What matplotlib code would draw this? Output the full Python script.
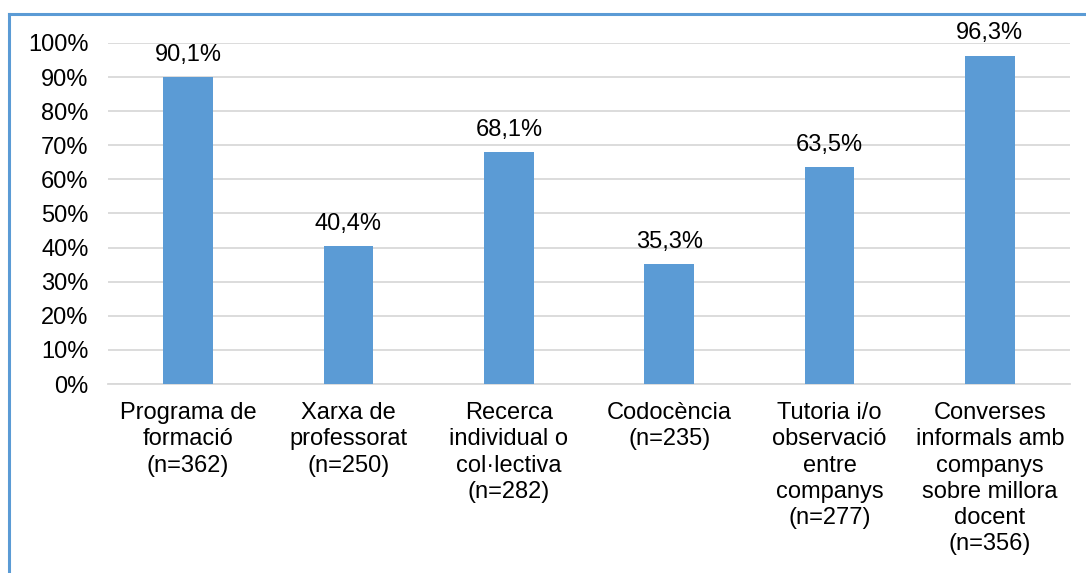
import matplotlib.pyplot as plt
from matplotlib.lines import Line2D
from matplotlib.ticker import FuncFormatter

plt.rcParams['font.family'] = ['Liberation Sans', 'DejaVu Sans']

# Data
categories = [
    "Programa de\nformació\n(n=362)",
    "Xarxa de\nprofessorat\n(n=250)",
    "Recerca\nindividual o\ncol·lectiva\n(n=282)",
    "Codocència\n(n=235)",
    "Tutoria i/o\nobservació\nentre\ncompanys\n(n=277)",
    "Converses\ninformals amb\ncompanys\nsobre millora\ndocent\n(n=356)",
]
values = [90.1, 40.4, 68.1, 35.3, 63.5, 96.3]
value_labels = ["90,1%", "40,4%", "68,1%", "35,3%", "63,5%", "96,3%"]

blue = "#5b9bd5"
fs = 17

fig = plt.figure(figsize=(10.86, 5.73), dpi=100)
ax = fig.add_axes([0.0994, 0.3298, 0.8859, 0.5952])

x = list(range(len(categories)))
bars = ax.bar(x, values, width=0.31, color=blue, zorder=3)

for xi, v, lab in zip(x, values, value_labels):
    ax.annotate(lab, (xi, v), xytext=(0, 8), textcoords="offset points",
                ha="center", va="bottom", fontsize=fs, color="#000000")

ax.set_xlim(-0.5, len(categories) - 0.5)
ax.set_ylim(0, 100)
ax.set_yticks(range(0, 101, 10))
ax.yaxis.set_major_formatter(FuncFormatter(lambda v, p: f"{int(v)}%"))
ax.set_xticks(x)
ax.set_xticklabels(categories, fontsize=fs, linespacing=1.25)
ax.tick_params(axis="y", labelsize=fs, length=0, pad=14)
ax.tick_params(axis="x", length=0, pad=13)

ax.grid(axis="y", color="#d9d9d9", linewidth=1.3, zorder=0)
for s in ["top", "right", "left"]:
    ax.spines[s].set_visible(False)
ax.spines["bottom"].set_color("#d9d9d9")
ax.spines["bottom"].set_linewidth(1.3)

# Frame border (top and left)
fig.add_artist(Line2D([9 / 1086, 9 / 1086], [0, 1 - 14 / 573], color=blue, linewidth=2.2))
fig.add_artist(Line2D([9 / 1086, 1], [1 - 14 / 573, 1 - 14 / 573], color=blue, linewidth=2.2))

plt.savefig("out.png", dpi=100)
